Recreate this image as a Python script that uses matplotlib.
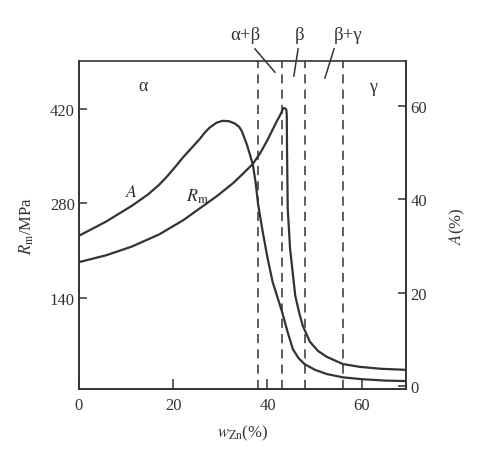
import matplotlib
matplotlib.use("Agg")
import matplotlib.pyplot as plt

plt.rcParams['font.family'] = ['Liberation Serif', 'DejaVu Serif']
plt.rcParams['mathtext.fontset'] = 'stix'

# Data
wzn_A = [0, 5.7, 11.2, 14.6, 17.0, 18.7, 20.4, 22.1, 24.0, 25.7, 26.8, 27.8, 29.2, 30.5, 31.9, 33.1,
         34.0, 34.6, 35.6, 36.3, 36.9, 37.5, 38.0, 39.0, 40.0, 41.1, 43.1, 44.3, 45.4, 46.6, 47.9,
         50.1, 52.6, 56.0, 60.0, 65.0, 69.4]
A_vals = [32.2, 35.2, 38.6, 41.0, 43.1, 44.9, 46.9, 49.0, 51.1, 53.0, 54.4, 55.4, 56.4, 56.8, 56.7, 56.2,
          55.5, 54.5, 51.8, 49.5, 47.4, 43.5, 39.0, 33.0, 27.5, 22.3, 15.9, 11.5, 7.9, 6.0, 4.7,
          3.5, 2.6, 1.9, 1.5, 1.2, 1.1]

wzn_Rm = [0, 5.7, 11.2, 17.0, 22.1, 25.7, 29.3, 32.7, 34.5, 36.9, 38.5, 39.9, 41.0, 42.0, 42.7,
          43.1, 43.3, 43.7, 44.0, 44.1, 44.15, 44.3, 44.8, 45.9, 46.7, 47.5, 49.0, 50.7, 52.6,
          56.0, 59.6, 64.0, 69.4]
Rm_vals = [193, 203, 216, 234, 255, 273, 291, 310, 322, 338.5, 355, 372.6, 388, 402, 411,
           417, 421, 421, 419, 410, 361, 272, 212.6, 143, 119, 98.5, 75, 61.5, 52.6,
           42, 37.8, 35, 33.4]

phase_bounds = [38, 43, 48, 56]
x_ticks = [0, 20, 40, 60]
rm_ticks = [140, 280, 420]
a_ticks = [0, 20, 40, 60]

col = '#333333'

fig = plt.figure(figsize=(4.89, 4.56), dpi=100)
ax = fig.add_axes([79/489, 66/456, 327/489, 328/456])
ax2 = ax.twinx()

ax.plot(wzn_Rm, Rm_vals, color=col, lw=1.6, solid_capstyle='round', solid_joinstyle='round')
ax2.plot(wzn_A, A_vals, color=col, lw=1.6, solid_capstyle='round', solid_joinstyle='round')

for xb in phase_bounds:
    ax.axvline(xb, color=col, lw=1.1, dashes=(6, 4))

ax.set_xlim(0, 69.4)
ax.set_ylim(5, 491)
ax2.set_ylim(-0.6, 69.6)

ax.set_xticks(x_ticks)
ax.set_yticks(rm_ticks)
ax2.set_yticks(a_ticks)

ax.tick_params(axis='x', direction='in', length=7, width=1.1, colors=col, labelsize=12, pad=6)
ax.tick_params(axis='y', direction='in', length=6, width=1.1, colors=col, labelsize=12, pad=3)
ax2.tick_params(axis='y', direction='in', length=6, width=1.1, colors=col, labelsize=12, pad=3)
for a in (ax, ax2):
    for s in a.spines.values():
        s.set_color(col)
        s.set_linewidth(1.2)
ax2.spines['top'].set_visible(False)

ax.set_xlabel(r'$w_{\mathrm{Zn}}$(%)', fontsize=12, color=col, labelpad=7)
ax.set_ylabel(r'$R_{\mathrm{m}}$/MPa', fontsize=12, color=col, labelpad=10)
ax2.set_ylabel(r'$A$(%)', fontsize=12, color=col, rotation=90, labelpad=15)

tr = ax.transAxes
ax.text(0.196, 0.924, 'α', transform=tr, fontsize=13, color=col, ha='center', va='center')
ax.text(0.899, 0.921, 'γ', transform=tr, fontsize=13, color=col, ha='center', va='center')
ax.text(0.162, 0.601, r'$A$', transform=tr, fontsize=13, color=col, ha='center', va='center')
ax.text(0.361, 0.588, r'$R_{\mathrm{m}}$', transform=tr, fontsize=13, color=col, ha='center', va='center')

tops = [('α+β', 0.508, (0.538, 1.037), (0.599, 0.966)),
        ('β', 0.676, (0.670, 1.037), (0.657, 0.954)),
        ('β+γ', 0.823, (0.780, 1.037), (0.752, 0.948))]
for lab, xt, p0, p1 in tops:
    ax.text(xt, 1.082, lab, transform=tr, fontsize=13.5, color=col, ha='center', va='center')
    ax.plot([p0[0], p1[0]], [p0[1], p1[1]], transform=tr, color=col, lw=1.1, clip_on=False)

fig.savefig('out.png', dpi=100, facecolor='white')
